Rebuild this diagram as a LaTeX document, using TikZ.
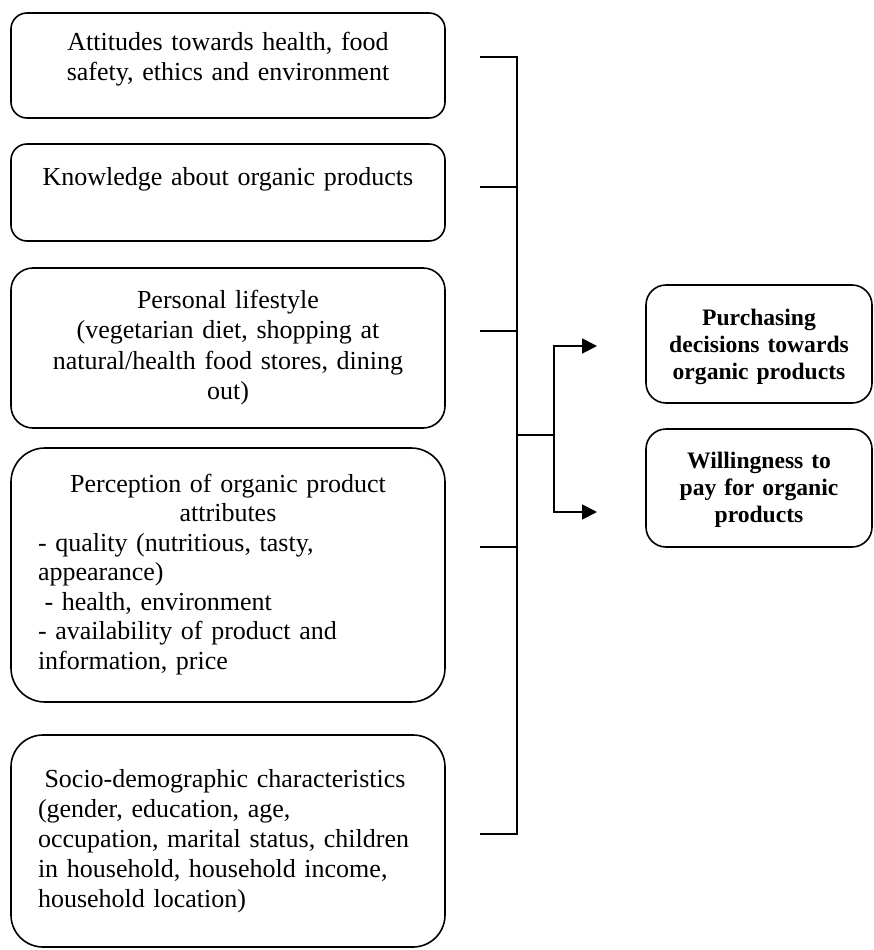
\documentclass[tikz,border=0pt]{standalone}
\usepackage{fontspec}
\setmainfont{Liberation Serif}
\usetikzlibrary{arrows.meta}
\begin{document}
\begin{tikzpicture}[x=1pt,y=-1pt,
  box/.style={draw=black, line width=1.6pt, inner sep=0pt},
  bodytext/.style={inner sep=0pt, anchor=north, text width=380pt,
    font=\fontsize{26}{30.5}\selectfont},
  outtext/.style={inner sep=0pt, anchor=north, text width=215pt, align=center,
    font=\bfseries\fontsize{23.6}{27.2}\selectfont},
  wire/.style={draw=black, line width=1.5pt},
  arrowwire/.style={draw=black, line width=1.8pt,
    -{Triangle[length=15pt,width=15pt]}}]
\useasboundingbox (0,0) rectangle (873,950);
\newcommand{\firstline}{\rule{0pt}{22pt}}

% factor boxes on the left
\node[box, minimum width=434pt, minimum height=105pt, rounded corners=16pt] (b1) at (228,65.5) {};
\node[box, minimum width=434pt, minimum height=97pt, rounded corners=16pt] (b2) at (228,192.5) {};
\node[box, minimum width=434pt, minimum height=160pt, rounded corners=22pt] (b3) at (228,348) {};
\node[box, minimum width=434pt, minimum height=254pt, rounded corners=34pt] (b4) at (228,575) {};
\node[box, minimum width=434pt, minimum height=212pt, rounded corners=32pt] (b5) at (228,841) {};

\node[bodytext, align=center] (t1) at (228,28)
  {\firstline Attitudes towards health, food\\safety, ethics and environment};
\node[bodytext, align=center] (t2) at (228,163)
  {\firstline Knowledge about organic products};
\node[bodytext, align=center] (t3) at (228,286)
  {\firstline Personal lifestyle\\(vegetarian diet, shopping at\\natural/health food stores, dining\\out)};
\node[bodytext, align=left, font=\fontsize{26}{29.5}\selectfont] (t4) at (228,470)
  {{\centering\firstline Perception of organic product\\attributes\par}
   - quality (nutritious, tasty,\\appearance)\\\hspace*{6.5pt}- health, environment\\- availability of product and\\information, price};
\node[bodytext, align=left, font=\fontsize{26}{30}\selectfont] (t5) at (228,765)
  {\firstline\hspace*{6.5pt}Socio-demographic characteristics\\(gender, education, age,\\occupation, marital status, children\\in household, household income,\\household location)};

% outcome boxes on the right
\node[box, minimum width=226pt, minimum height=118pt, rounded corners=20pt] (r1) at (759,344) {};
\node[box, minimum width=226pt, minimum height=118pt, rounded corners=20pt] (r2) at (759,488) {};
\node[outtext] (o1) at (759,303) {\rule{0pt}{22pt}Purchasing\\decisions towards\\organic products};
\node[outtext] (o2) at (759,446) {\rule{0pt}{22pt}Willingness to\\pay for organic\\products};

% bracket gathering the factors
\coordinate (k1) at (480,57);
\coordinate (k2) at (480,187);
\coordinate (k3) at (480,331);
\coordinate (k4) at (480,547);
\coordinate (k5) at (480,834);
\coordinate (spine) at (517,0);
\coordinate (mid) at (517,435);
\coordinate (fork) at (554,435);
\coordinate (a1) at (597,346);
\coordinate (a2) at (597,512);

\draw[wire] (k1) -- (k1 -| spine) -- (k5 -| spine) -- (k5);
\draw[wire] (k2) -- (k2 -| spine);
\draw[wire] (k3) -- (k3 -| spine);
\draw[wire] (k4) -- (k4 -| spine);
\draw[wire] (mid) -- (fork);
\draw[arrowwire] (fork) |- (a1);
\draw[arrowwire] (fork) |- (a2);
\end{tikzpicture}
\end{document}
